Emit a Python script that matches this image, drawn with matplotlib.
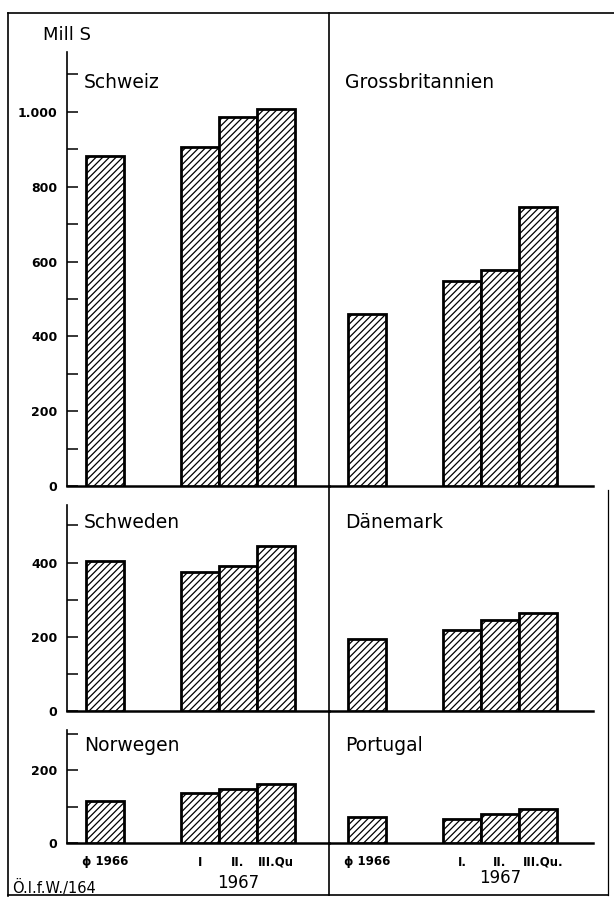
import matplotlib.pyplot as plt
from matplotlib.lines import Line2D
from matplotlib.ticker import FixedLocator, FuncFormatter

# values in Mill S
countries_left = ["Schweiz", "Schweden", "Norwegen"]
countries_right = ["Grossbritannien", "Dänemark", "Portugal"]
labels_left = ["ϕ 1966", "I", "II.", "III.Qu"]
labels_right = ["ϕ 1966", "I.", "II.", "III.Qu."]

schweiz = [883, 906, 985, 1007]
grossbritannien = [460, 547, 576, 747]
schweden = [405, 375, 390, 445]
daenemark = [195, 219, 246, 265]
norwegen = [115, 137, 148, 162]
portugal = [72, 66, 79, 93]

row_limits = [1160, 555, 310]
row_ticks = [list(range(100, 1200, 100)), [100, 200, 300, 400, 500], [100, 200, 300]]
row_labels = [[0, 200, 400, 600, 800, 1000], [0, 200, 400], [0, 200]]

W, H = 614, 899
plt.rcParams['font.family'] = ['DejaVu Sans']
plt.rcParams['hatch.linewidth'] = 0.9

fig = plt.figure(figsize=(W / 100, H / 100), dpi=100)


def px_axes(x0, y0, x1, y1):
    # pixel box (top-left origin) -> figure axes
    return fig.add_axes([x0 / W, 1 - y1 / H, (x1 - x0) / W, (y1 - y0) / H])


def thousands(v, pos):
    return f"{int(v):,}".replace(",", ".")


rows = [(52, 486), (505, 711), (730, 843)]
title_y = [0.93, 0.917, 0.86]
left_vals = [schweiz, schweden, norwegen]
right_vals = [grossbritannien, daenemark, portugal]
pos = [1, 3.5, 4.5, 5.5]

for i, (y0, y1) in enumerate(rows):
    axl = px_axes(67, y0, 329, y1)
    axr = px_axes(329, y0, 593, y1)
    for ax, vals, name, xmax, tx in [(axl, left_vals[i], countries_left[i], 6.9, 0.45),
                                     (axr, right_vals[i], countries_right[i], 6.95, 0.42)]:
        ax.bar(pos, vals, width=1.0, facecolor='white', edgecolor='black',
               linewidth=2.0, hatch='/////', zorder=3)
        ax.set_xlim(0, xmax)
        ax.set_ylim(0, row_limits[i])
        ax.spines['top'].set_visible(False)
        ax.spines['right'].set_visible(False)
        ax.spines['bottom'].set_linewidth(1.8)
        ax.patch.set_alpha(0)
        ax.text(tx, row_limits[i] * title_y[i], name, fontsize=13.5,
                va='center', ha='left')
        ax.tick_params(axis='x', length=0)
        if i < 2:
            ax.set_xticks([])

    axl.spines['left'].set_linewidth(1.2)
    axl.yaxis.set_major_locator(FixedLocator(row_labels[i]))
    axl.yaxis.set_major_formatter(FuncFormatter(thousands))
    axl.yaxis.set_minor_locator(FixedLocator(row_ticks[i]))
    axl.tick_params(axis='y', which='both', direction='in', length=8, width=1.1)
    axl.tick_params(axis='y', which='major', pad=7, labelsize=9)
    for t in axl.get_yticklabels():
        t.set_fontweight('bold')

    axr.spines['left'].set_visible(False)
    axr.set_yticks([])

    if i == 2:
        axl.set_xticks(pos, labels_left, fontsize=8.5, fontweight='bold')
        axr.set_xticks([1, 3.5, 4.5, 5.65], labels_right, fontsize=8.5, fontweight='bold')
        axl.tick_params(axis='x', pad=9)
        axr.tick_params(axis='x', pad=9)
        axl.text(4.5, -0.35, "1967", transform=axl.get_xaxis_transform(),
                 ha='center', va='center', fontsize=12)
        axr.text(4.5, -0.31, "1967", transform=axr.get_xaxis_transform(),
                 ha='center', va='center', fontsize=12)

# frame and divider
def fig_line(x0, y0, x1, y1, lw=1.2):
    fig.add_artist(Line2D([x0 / W, x1 / W], [1 - y0 / H, 1 - y1 / H],
                          color='black', linewidth=lw))


fig_line(8, 13, 614, 13)
fig_line(8, 13, 8, 896)
fig_line(8, 895, 608, 895)
fig_line(329, 13, 329, 895)
fig_line(608, 490, 608, 895, lw=0.9)

fig.text(43 / W, 1 - 35 / H, "Mill S", fontsize=13, va='center', ha='left')
fig.text(12 / W, 1 - 888 / H, "Ö.I.f.W./164", fontsize=10.5, va='center', ha='left')

fig.savefig("out.png", dpi=100)
